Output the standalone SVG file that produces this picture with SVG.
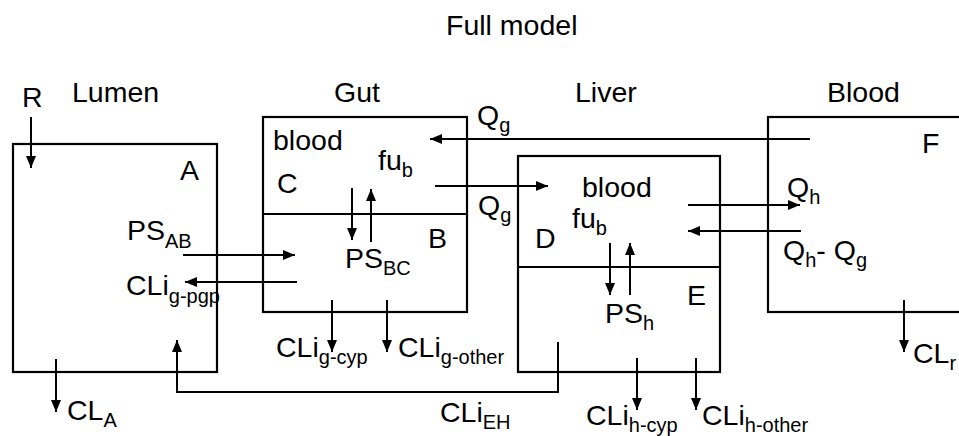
<svg xmlns="http://www.w3.org/2000/svg" width="959" height="436" viewBox="0 0 959 436">
<style>
.box{fill:none;stroke:#000;stroke-width:2.2}
.ln{fill:none;stroke:#000;stroke-width:2}
.ar{fill:none;stroke:#000;stroke-width:2;marker-end:url(#ah)}
text{font-family:"Liberation Sans",Arial,sans-serif;font-size:28.5px;fill:#000}
.s{font-size:20px}
</style>
<defs>
<marker id="ah" markerUnits="userSpaceOnUse" markerWidth="13" markerHeight="11" refX="12" refY="5" orient="auto">
<path d="M0,0 L12,5 L0,10 z" fill="#000"/>
</marker>
</defs>
<rect width="959" height="436" fill="#fff"/>
<text x="446" y="35">Full model</text>
<g id="lumen">
<text x="72" y="102">Lumen</text>
<rect class="box" x="13" y="144" width="204" height="228"/>
<text x="180" y="180">A</text>
<text x="127" y="240">PS<tspan class="s" dy="8">AB</tspan></text>
<text x="126" y="295">CLi<tspan class="s" dy="8">g-pgp</tspan></text>
</g>
<g id="gut">
<text x="334" y="102">Gut</text>
<rect class="box" x="263" y="117" width="204" height="195"/>
<line class="box" x1="263" y1="214" x2="467" y2="214"/>
<text x="273" y="150">blood</text>
<text x="378" y="170">fu<tspan class="s" dy="7">b</tspan></text>
<text x="277" y="193">C</text>
<text x="428" y="248">B</text>
<text x="345" y="268">PS<tspan class="s" dy="7">BC</tspan></text>
</g>
<g id="liver">
<text x="575" y="102">Liver</text>
<rect class="box" x="518" y="156" width="202" height="216"/>
<line class="box" x1="518" y1="267" x2="720" y2="267"/>
<text x="582" y="197">blood</text>
<text x="572" y="228">fu<tspan class="s" dy="7">b</tspan></text>
<text x="535" y="248">D</text>
<text x="687" y="305">E</text>
<text x="605" y="323">PS<tspan class="s" dy="7">h</tspan></text>
</g>
<g id="blood">
<text x="827" y="102">Blood</text>
<rect class="box" x="768" y="117" width="220" height="195"/>
<text x="922" y="153">F</text>
</g>
<g id="labels">
<text x="22" y="107">R</text>
<text x="477" y="125">Q<tspan class="s" dy="7">g</tspan></text>
<text x="478" y="215">Q<tspan class="s" dy="7">g</tspan></text>
<text x="787" y="197">Q<tspan class="s" dy="7">h</tspan></text>
<text x="783" y="260">Q<tspan class="s" dy="7">h</tspan><tspan dy="-7">- Q</tspan><tspan class="s" dy="7">g</tspan></text>
<text x="276" y="357">CLi<tspan class="s" dy="7">g-cyp</tspan></text>
<text x="398" y="357">CLi<tspan class="s" dy="7">g-other</tspan></text>
<text x="67" y="420">CL<tspan class="s" dy="7">A</tspan></text>
<text x="440" y="422">CLi<tspan class="s" dy="7">EH</tspan></text>
<text x="586" y="425">CLi<tspan class="s" dy="7">h-cyp</tspan></text>
<text x="702" y="425">CLi<tspan class="s" dy="7">h-other</tspan></text>
<text x="913" y="363">CL<tspan class="s" dy="7">r</tspan></text>
</g>
<g id="connectors">
<line class="ar" x1="31" y1="117" x2="31" y2="168"/>
<line class="ar" x1="810" y1="139" x2="430" y2="139"/>
<line class="ar" x1="435" y1="186" x2="548" y2="186"/>
<line class="ar" x1="352" y1="188" x2="352" y2="240"/>
<line class="ar" x1="371" y1="242" x2="371" y2="189"/>
<line class="ar" x1="183" y1="255" x2="295" y2="255"/>
<line class="ar" x1="297" y1="282" x2="185" y2="282"/>
<line class="ar" x1="332" y1="300" x2="332" y2="352"/>
<line class="ar" x1="387" y1="300" x2="387" y2="352"/>
<line class="ar" x1="56" y1="359" x2="56" y2="412"/>
<polyline class="ar" points="558,342 558,392 177,392 177,340"/>
<line class="ar" x1="688" y1="205" x2="800" y2="205"/>
<line class="ar" x1="801" y1="231" x2="688" y2="231"/>
<line class="ar" x1="610" y1="243" x2="610" y2="295"/>
<line class="ar" x1="630" y1="295" x2="630" y2="243"/>
<line class="ar" x1="637" y1="358" x2="637" y2="410"/>
<line class="ar" x1="696" y1="358" x2="696" y2="410"/>
<line class="ar" x1="904" y1="300" x2="904" y2="352"/>
</g>
</svg>
